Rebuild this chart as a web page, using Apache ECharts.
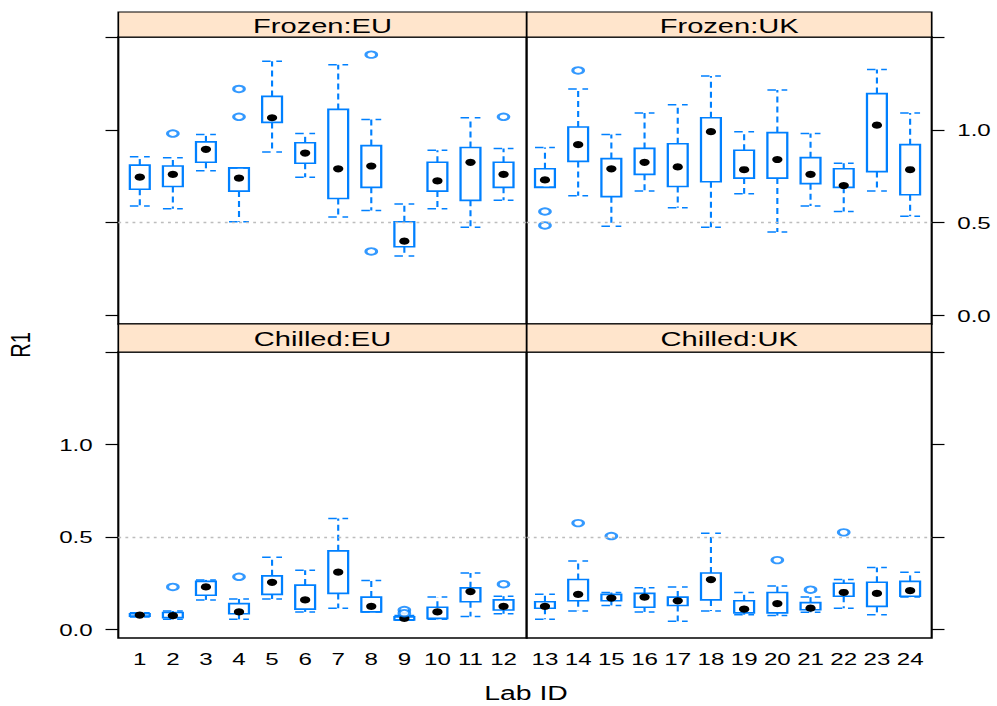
<!DOCTYPE html>
<html>
<head>
<meta charset="utf-8">
<script src="https://cdn.jsdelivr.net/npm/echarts@6/dist/echarts.min.js"></script>
<style>
  html, body { margin: 0; padding: 0; background: #fff; overflow: hidden; }
  #chart { height: 706px; transform-origin: 0 0; }
</style>
</head>
<body>
<div id="chart"></div>
<script>
// lab ids per region
const labsEU = [1, 2, 3, 4, 5, 6, 7, 8, 9, 10, 11, 12]
const labsUK = [13, 14, 15, 16, 17, 18, 19, 20, 21, 22, 23, 24]

// [lower whisker, Q1, median, Q3, upper whisker] per lab
const frozenEU = [
  [0.59, 0.68, 0.745, 0.81, 0.855],
  [0.575, 0.695, 0.76, 0.805, 0.85],
  [0.78, 0.825, 0.895, 0.935, 0.975],
  [0.505, 0.67, 0.74, 0.795, 0.795],
  [0.88, 1.04, 1.065, 1.18, 1.37],
  [0.745, 0.82, 0.875, 0.93, 0.98],
  [0.53, 0.63, 0.79, 1.11, 1.35],
  [0.565, 0.69, 0.805, 0.915, 1.055],
  [0.32, 0.37, 0.40, 0.505, 0.60],
  [0.575, 0.67, 0.725, 0.825, 0.89],
  [0.475, 0.62, 0.825, 0.905, 1.065],
  [0.62, 0.69, 0.76, 0.825, 0.90],
]
const frozenUK = [
  [0.69, 0.69, 0.73, 0.79, 0.905],
  [0.645, 0.83, 0.92, 1.015, 1.22],
  [0.48, 0.64, 0.79, 0.845, 0.975],
  [0.67, 0.76, 0.825, 0.90, 1.09],
  [0.58, 0.695, 0.80, 0.925, 1.135],
  [0.475, 0.72, 0.99, 1.065, 1.29],
  [0.655, 0.74, 0.785, 0.89, 0.99],
  [0.45, 0.74, 0.84, 0.985, 1.215],
  [0.59, 0.71, 0.76, 0.85, 0.98],
  [0.56, 0.69, 0.70, 0.79, 0.82],
  [0.67, 0.775, 1.025, 1.195, 1.325],
  [0.535, 0.65, 0.785, 0.92, 1.09],
]
const chilledEU = [
  [0.068, 0.072, 0.078, 0.085, 0.09],
  [0.055, 0.064, 0.075, 0.092, 0.10],
  [0.16, 0.185, 0.23, 0.26, 0.268],
  [0.055, 0.085, 0.095, 0.14, 0.165],
  [0.165, 0.19, 0.255, 0.29, 0.39],
  [0.095, 0.11, 0.16, 0.24, 0.32],
  [0.115, 0.195, 0.31, 0.425, 0.60],
  [0.095, 0.095, 0.125, 0.175, 0.265],
  [0.05, 0.052, 0.06, 0.068, 0.075],
  [0.055, 0.06, 0.095, 0.12, 0.175],
  [0.07, 0.15, 0.205, 0.225, 0.305],
  [0.085, 0.105, 0.125, 0.16, 0.18],
]
const chilledUK = [
  [0.055, 0.115, 0.125, 0.15, 0.19],
  [0.10, 0.155, 0.19, 0.27, 0.37],
  [0.13, 0.155, 0.17, 0.19, 0.20],
  [0.095, 0.12, 0.175, 0.195, 0.225],
  [0.045, 0.13, 0.155, 0.175, 0.23],
  [0.10, 0.16, 0.27, 0.305, 0.52],
  [0.08, 0.09, 0.11, 0.155, 0.20],
  [0.075, 0.09, 0.14, 0.20, 0.235],
  [0.093, 0.107, 0.115, 0.145, 0.175],
  [0.115, 0.18, 0.20, 0.25, 0.27],
  [0.08, 0.125, 0.195, 0.255, 0.335],
  [0.175, 0.18, 0.21, 0.26, 0.31],
]

// outliers as [lab, R1]
const frozenEUOut = [[2, 0.98], [4, 1.22], [4, 1.07], [8, 1.405], [8, 0.345], [12, 1.07]]
const frozenUKOut = [[13, 0.56], [13, 0.485], [14, 1.32]]
const chilledEUOut = [[2, 0.23], [4, 0.285], [9, 0.105], [9, 0.088], [12, 0.245]]
const chilledUKOut = [[14, 0.575], [15, 0.505], [20, 0.375], [21, 0.215], [22, 0.525]]

const yTicks = [0, 0.5, 1.0, 1.5]
const yLabels = [0, 0.5, 1.0]
const refLine = 0.5

// the source figure is stretched sideways; draw narrow and scale x
const SX = 1.42
const BLUE = '#0080ff'
const FONT = 'Liberation Sans, Arial, sans-serif'

const colX = [118.3, 526.7, 931.7]
const stripY = [[12, 37], [324, 352]]
const panelY = [[37, 324], [352, 638]]
const xRange = [[0.35, 12.7], [12.45, 24.65]]

const panels = [
  { name: 'Frozen:EU', row: 0, col: 0, labs: labsEU, stats: frozenEU, out: frozenEUOut, side: 'left', labels: false },
  { name: 'Frozen:UK', row: 0, col: 1, labs: labsUK, stats: frozenUK, out: frozenUKOut, side: 'right', labels: true },
  { name: 'Chilled:EU', row: 1, col: 0, labs: labsEU, stats: chilledEU, out: chilledEUOut, side: 'left', labels: true },
  { name: 'Chilled:UK', row: 1, col: 1, labs: labsUK, stats: chilledUK, out: chilledUKOut, side: 'right', labels: false },
]

const dom = document.getElementById('chart')
dom.style.width = (997 / SX) + 'px'
dom.style.transform = 'scaleX(' + SX + ')'
const chart = echarts.init(dom, null, { renderer: 'svg' })

function renderBox (params, api) {
  const x = api.value(0)
  const lo = api.coord([x, api.value(1)])
  const q1 = api.coord([x, api.value(2)])
  const md = api.coord([x, api.value(3)])
  const q3 = api.coord([x, api.value(4)])
  const hi = api.coord([x, api.value(5)])
  const cx = md[0]
  const half = 7
  const dashed = { stroke: BLUE, lineWidth: 1.5, lineDash: [6, 4], fill: null }
  return {
    type: 'group',
    children: [
      { type: 'line', shape: { x1: cx, y1: q3[1], x2: cx, y2: hi[1] }, style: dashed },
      { type: 'line', shape: { x1: cx, y1: q1[1], x2: cx, y2: lo[1] }, style: dashed },
      { type: 'line', shape: { x1: cx - half, y1: hi[1], x2: cx + half, y2: hi[1] }, style: dashed },
      { type: 'line', shape: { x1: cx - half, y1: lo[1], x2: cx + half, y2: lo[1] }, style: dashed },
      {
        type: 'rect',
        shape: { x: cx - half, y: q3[1], width: half * 2, height: q1[1] - q3[1] },
        style: { stroke: BLUE, lineWidth: 1.6, fill: null },
      },
      { type: 'circle', shape: { cx: cx, cy: md[1], r: 3.6 }, style: { fill: '#000' } },
    ],
  }
}

const grid = []
const xAxis = []
const yAxis = []
const series = []
const graphic = []

panels.forEach((p, i) => {
  const left = colX[p.col] / SX
  const width = (colX[p.col + 1] - colX[p.col]) / SX
  grid.push({
    left: left,
    top: panelY[p.row][0],
    width: width,
    height: panelY[p.row][1] - panelY[p.row][0],
    show: true,
    backgroundColor: '#fff',
    borderColor: '#000',
    borderWidth: 1.5,
  })
  xAxis.push({
    type: 'value',
    gridIndex: i,
    min: xRange[p.col][0],
    max: xRange[p.col][1],
    axisLine: { show: false },
    axisTick: { show: false },
    splitLine: { show: false },
    axisLabel: {
      show: p.row === 1,
      customValues: p.labs,
      margin: 12,
      fontFamily: FONT,
      fontSize: 17,
      color: '#000',
    },
  })
  yAxis.push({
    type: 'value',
    gridIndex: i,
    position: p.side,
    min: -0.046,
    max: 1.5,
    axisLine: { show: false },
    splitLine: { show: false },
    axisTick: {
      show: true,
      customValues: yTicks,
      length: 9,
      lineStyle: { color: '#000', width: 1.2 },
    },
    axisLabel: {
      show: p.labels,
      customValues: yLabels,
      formatter: (v) => v.toFixed(1),
      margin: 18,
      fontFamily: FONT,
      fontSize: 17,
      color: '#000',
    },
  })
  series.push({
    type: 'custom',
    xAxisIndex: i,
    yAxisIndex: i,
    renderItem: renderBox,
    encode: { x: 0, y: [1, 2, 3, 4, 5] },
    data: p.labs.map((lab, k) => [lab].concat(p.stats[k])),
    markLine: {
      silent: true,
      symbol: ['none', 'none'],
      label: { show: false },
      lineStyle: { color: '#bdbdbd', type: [2, 3], width: 1.3 },
      data: [{ yAxis: refLine }],
    },
    z: 3,
  })
  series.push({
    type: 'scatter',
    xAxisIndex: i,
    yAxisIndex: i,
    symbol: 'emptyCircle',
    symbolSize: [7.5, 6.5],
    itemStyle: { color: BLUE, borderColor: BLUE, borderWidth: 1.4 },
    data: p.out,
    z: 3,
  })
  // strip header
  graphic.push({
    type: 'rect',
    shape: { x: left, y: stripY[p.row][0], width: width, height: stripY[p.row][1] - stripY[p.row][0] },
    style: { fill: '#ffe5cc', stroke: '#000', lineWidth: 1.2 },
    z: 10,
  })
  graphic.push({
    type: 'text',
    x: left + width / 2,
    y: (stripY[p.row][0] + stripY[p.row][1]) / 2 + 1,
    style: {
      text: p.name,
      fontFamily: FONT,
      fontSize: 20.5,
      fill: '#000',
      align: 'center',
      verticalAlign: 'middle',
    },
    z: 11,
  })
})

graphic.push({
  type: 'text',
  x: 526 / SX,
  y: 693,
  style: { text: 'Lab ID', fontFamily: FONT, fontSize: 20, fill: '#000', align: 'center', verticalAlign: 'middle' },
})
graphic.push({
  type: 'text',
  x: 20 / SX,
  y: 345,
  rotation: Math.PI / 2,
  style: { text: 'R1', fontFamily: FONT, fontSize: 20, fill: '#000', align: 'center', verticalAlign: 'middle' },
})

chart.setOption({
  animation: false,
  grid: grid,
  xAxis: xAxis,
  yAxis: yAxis,
  series: series,
  graphic: graphic,
})
</script>
</body>
</html>
